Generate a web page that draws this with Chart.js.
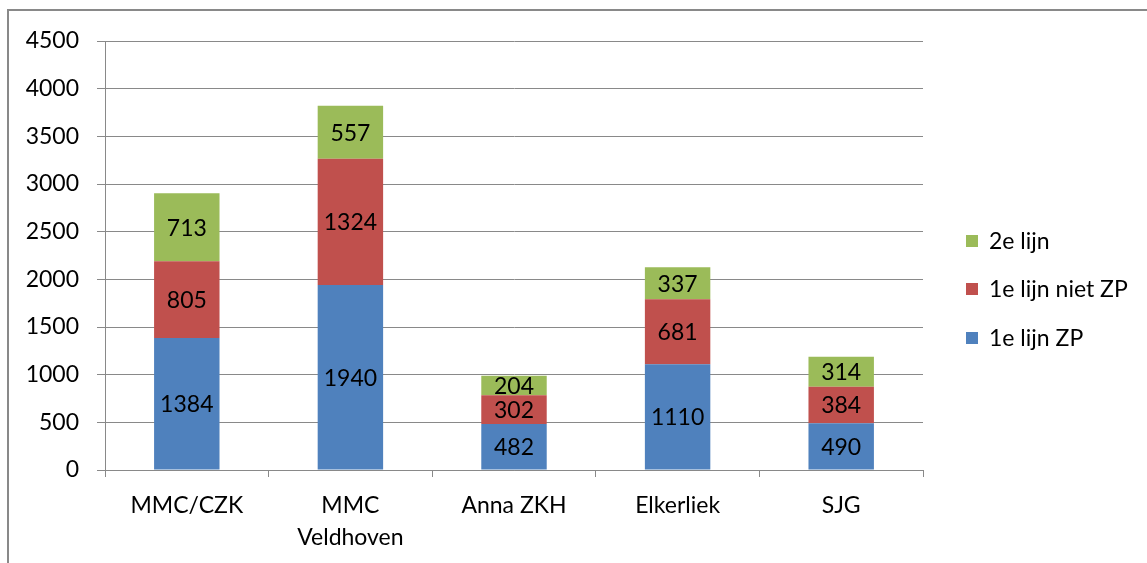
<!DOCTYPE html>
<html>
<head>
<meta charset="utf-8">
<script src="https://cdn.jsdelivr.net/npm/chart.js@4.4.1/dist/chart.umd.min.js"></script>
<style>
  html, body { margin: 0; padding: 0; background: #ffffff; }
  #wrap { width: 1147px; height: 563px; position: relative; }
</style>
</head>
<body>
<div id="wrap"><canvas id="chartZiekenhuizen"></canvas></div>
<script>
// Ziekenhuizen en aantallen per lijn
const ziekenhuizen = ['MMC/CZK', ['MMC', 'Veldhoven'], 'Anna ZKH', 'Elkerliek', 'SJG'];
const eersteLijnZP = [1384, 1940, 482, 1110, 490];
const eersteLijnNietZP = [805, 1324, 302, 681, 384];
const tweedeLijn = [713, 557, 204, 337, 314];
const yTicks = [0, 500, 1000, 1500, 2000, 2500, 3000, 3500, 4000, 4500];

const FONT = 'Lato, "Open Sans", sans-serif';
const FONT_SIZE = 23;
const GRIJS = '#898989';

// Waarden midden in elk blok
const waardeLabels = {
    id: 'waardeLabels',
    afterDatasetsDraw(chart) {
        const ctx = chart.ctx;
        ctx.save();
        ctx.font = FONT_SIZE + 'px ' + FONT;
        ctx.fillStyle = '#000000';
        ctx.textAlign = 'center';
        ctx.textBaseline = 'middle';
        chart.data.datasets.forEach((ds, i) => {
            const meta = chart.getDatasetMeta(i);
            meta.data.forEach((bar, j) => {
                const p = bar.getProps(['x', 'y', 'base'], true);
                ctx.fillText(ds.data[j], p.x, (p.y + p.base) / 2 + 1);
            });
        });
        ctx.restore();
    }
};

// Legenda rechts en kader om de grafiek
const legendaEnKader = {
    id: 'legendaEnKader',
    afterDraw(chart) {
        const ctx = chart.ctx;
        ctx.save();
        ctx.strokeStyle = GRIJS;
        ctx.lineWidth = 2;
        ctx.beginPath();
        ctx.moveTo(8, 570);
        ctx.lineTo(8, 10);
        ctx.lineTo(1160, 10);
        ctx.stroke();

        const items = [2, 1, 0];
        const rijY = [241, 289, 338];
        ctx.font = FONT_SIZE + 'px ' + FONT;
        ctx.textBaseline = 'middle';
        ctx.textAlign = 'left';
        items.forEach((d, k) => {
            const ds = chart.data.datasets[d];
            ctx.fillStyle = ds.backgroundColor;
            ctx.fillRect(966, rijY[k] - 6, 12, 12);
            ctx.fillStyle = '#000000';
            ctx.fillText(ds.label, 989, rijY[k] + 1);
        });
        ctx.restore();
    }
};

new Chart(document.getElementById('chartZiekenhuizen'), {
    type: 'bar',
    data: {
        labels: ziekenhuizen,
        datasets: [
            { label: '1e lijn ZP', data: eersteLijnZP, backgroundColor: '#4f81bd' },
            { label: '1e lijn niet ZP', data: eersteLijnNietZP, backgroundColor: '#c0504d' },
            { label: '2e lijn', data: tweedeLijn, backgroundColor: '#9bbb59' }
        ]
    },
    options: {
        responsive: true,
        maintainAspectRatio: false,
        animation: false,
        barPercentage: 0.4,
        categoryPercentage: 1.0,
        layout: { padding: { left: 0, top: 41, right: 224, bottom: 0 } },
        plugins: {
            legend: { display: false },
            tooltip: { enabled: false }
        },
        scales: {
            x: {
                stacked: true,
                offset: true,
                grid: {
                    offset: true,
                    drawOnChartArea: false,
                    drawTicks: true,
                    tickLength: 7,
                    color: GRIJS
                },
                border: { display: true, color: GRIJS, width: 1 },
                ticks: {
                    color: '#000000',
                    font: { family: FONT, size: FONT_SIZE, lineHeight: 1.4 },
                    padding: 12,
                    maxRotation: 0
                },
                afterFit(scale) { scale.height = 93; }
            },
            y: {
                stacked: true,
                min: 0,
                max: 4500,
                afterBuildTicks(scale) { scale.ticks = yTicks.map(v => ({ value: v })); },
                grid: {
                    color: GRIJS,
                    lineWidth: 1,
                    drawTicks: true,
                    tickLength: 8
                },
                border: { display: true, color: GRIJS, width: 1 },
                ticks: {
                    color: '#000000',
                    font: { family: FONT, size: FONT_SIZE },
                    padding: 18,
                    callback: (v) => String(v)
                },
                afterFit(scale) { scale.width = 105; }
            }
        }
    },
    plugins: [waardeLabels, legendaEnKader]
});
</script>
</body>
</html>
